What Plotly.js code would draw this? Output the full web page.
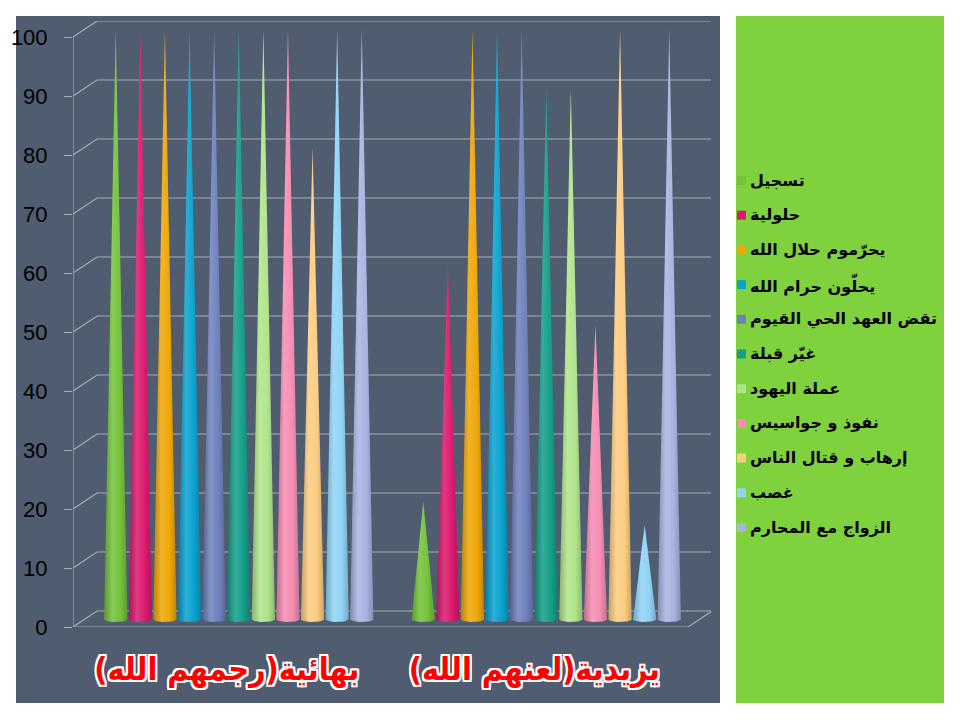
<!DOCTYPE html>
<html>
<head>
<meta charset="utf-8">
<script src="https://cdn.plot.ly/plotly-3.0.1.min.js"></script>
<style>
  html, body { margin: 0; padding: 0; background: #ffffff; }
  #chart { width: 960px; height: 720px; }
</style>
</head>
<body>
<div id="chart"></div>
<script>
"use strict";

// Categorias (eje X) y series
const categorias = ['بهائية(رجمهم الله)', 'يزيدية(لعنهم الله)'];
const nombresSeries = [
    'تسجيل',
    'حلولية',
    'يحرّموم حلال الله',
    'يحلّون حرام الله',
    'تقض العهد الحي القيوم',
    'غيّر قبلة',
    'عملة اليهود',
    'نفوذ و جواسيس',
    'إرهاب و قتال الناس',
    'غصب',
    'الزواج مع المحارم'
];
const valoresBahaiya = [100, 100, 100, 100, 100, 100, 100, 100, 80, 100, 100];
const valoresYazidiya = [20, 60, 100, 100, 100, 90, 90, 50, 100, 16, 100];
const coloresSeries = [
    '#74c23a', '#db1a6e', '#eea707', '#0aa2cf', '#6f80bd', '#159f89',
    '#b0e48a', '#f68cb2', '#fdcd82', '#90d3f6', '#a9b3e1'
];
const ticksY = [0, 10, 20, 30, 40, 50, 60, 70, 80, 90, 100];

const valoresPorCategoria = [valoresBahaiya, valoresYazidiya];

// Geometria del area de trazado (pixeles)
const margen = { l: 73, r: 249, t: 21, b: 93 };
const anchoPlot = 960 - margen.l - margen.r;
const altoPlot = 720 - margen.t - margen.b;
const rangoX = [-0.5, -0.5 + anchoPlot / 307.5];
const rangoY = [0, altoPlot / 5.9];
const profX = 24 / 307.5;          // profundidad 3D en unidades de X
const profY = 16 / 5.9;            // profundidad 3D en unidades de Y

// Conversion de pixeles de pagina a coordenadas 'paper'
const px = p => (p - margen.l) / anchoPlot;
const py = p => (720 - margen.b - p) / altoPlot;

// Utilidades de color
function mezclar(hex, destino, t) {
    const n = parseInt(hex.slice(1), 16);
    const c = [(n >> 16) & 255, (n >> 8) & 255, n & 255];
    const d = destino === 'w' ? 255 : 0;
    const r = c.map(v => Math.round(v + (d - v) * t));
    return `rgb(${r[0]},${r[1]},${r[2]})`;
}

// Construir un cono (triangulo con base eliptica)
const paso = 0.08;
const semiAncho = 0.0378;
const baseY = 1.3;
const radioY = 0.45;

function trazadoCono(xc, valor, color) {
    const xs = [];
    const ys = [];
    for (let k = 0; k <= 16; k++) {
        const t = Math.PI * k / 16;
        xs.push(xc - semiAncho * Math.cos(t));
        ys.push(baseY - radioY * Math.sin(t));
    }
    xs.push(xc);
    ys.push(baseY + valor);
    return {
        x: xs,
        y: ys,
        type: 'scatter',
        mode: 'lines',
        fill: 'toself',
        fillcolor: color,
        fillgradient: {
            type: 'horizontal',
            colorscale: [
                [0, mezclar(color, 'k', 0.22)],
                [0.35, mezclar(color, 'w', 0.14)],
                [0.7, color],
                [1, mezclar(color, 'k', 0.2)]
            ]
        },
        line: { width: 0, color: color },
        showlegend: false,
        hoverinfo: 'skip'
    };
}

const trazados = [];
valoresPorCategoria.forEach((valores, ic) => {
    valores.forEach((v, is) => {
        const xc = ic + profX / 2 + (is - 5) * paso;
        trazados.push(trazadoCono(xc, v, coloresSeries[is]));
    });
});

// Fondos, rejilla 3D y ejes como formas
const colorRejilla = '#a4acb8';
const formas = [
    { type: 'rect', xref: 'paper', yref: 'paper', layer: 'below',
      x0: px(16), x1: px(720), y0: py(703), y1: py(16),
      fillcolor: '#505c6f', line: { width: 0 } },
    { type: 'rect', xref: 'paper', yref: 'paper', layer: 'below',
      x0: px(736), x1: px(944), y0: py(703), y1: py(16),
      fillcolor: '#7fd13d', line: { width: 0 } }
];
const xIzq = rangoX[0];
const xDerFrente = 1.5;
ticksY.forEach(v => {
    formas.push({
        type: 'path', layer: 'below', xref: 'x', yref: 'y',
        path: `M ${xIzq},${v} L ${xIzq + profX},${v + profY} L ${xDerFrente + profX},${v + profY}`,
        line: { color: colorRejilla, width: 1.2 }
    });
});
// piso frontal y lateral derecho
formas.push({
    type: 'path', layer: 'below', xref: 'x', yref: 'y',
    path: `M ${xIzq},0 L ${xDerFrente},0 L ${xDerFrente + profX},${profY}`,
    line: { color: colorRejilla, width: 1.2 }
});
// eje vertical y marcas de categoria
formas.push({
    type: 'line', layer: 'below', xref: 'x', yref: 'y',
    x0: xIzq, x1: xIzq, y0: -2.2, y1: 100,
    line: { color: colorRejilla, width: 1.2 }
});
[0.5, 1.5].forEach(xv => {
    formas.push({
        type: 'line', layer: 'below', xref: 'x', yref: 'y',
        x0: xv, x1: xv, y0: -2.2, y1: 0,
        line: { color: colorRejilla, width: 1.2 }
    });
});

// Leyenda (cuadro de color a la izquierda del texto)
const anotaciones = [];
nombresSeries.forEach((nombre, i) => {
    const yc = 180 + i * 34.7;
    formas.push({
        type: 'rect', xref: 'paper', yref: 'paper',
        x0: px(737), x1: px(746), y0: py(yc + 5), y1: py(yc - 4),
        fillcolor: coloresSeries[i], line: { width: 0 }
    });
    anotaciones.push({
        xref: 'paper', yref: 'paper',
        x: px(748), y: py(yc),
        xanchor: 'left', yanchor: 'middle',
        text: nombre, showarrow: false,
        font: { family: 'DejaVu Sans', size: 16, color: '#000000', weight: 'bold' }
    });
});

const sombraBlanca = [
    '2px 2px 0 #fff', '-2px -2px 0 #fff', '2px -2px 0 #fff', '-2px 2px 0 #fff',
    '0 2px 0 #fff', '0 -2px 0 #fff', '2px 0 0 #fff', '-2px 0 0 #fff'
].join(', ');

const layout = {
    width: 960,
    height: 720,
    margin: margen,
    paper_bgcolor: '#ffffff',
    plot_bgcolor: 'rgba(0,0,0,0)',
    showlegend: false,
    xaxis: {
        range: rangoX,
        tickvals: [0, 1],
        // marca RTL al final para que el parentesis quede en su sitio
        ticktext: categorias.map(c => c + '\u200F'),
        ticks: '',
        showgrid: false,
        zeroline: false,
        showline: false,
        ticklabelstandoff: 20,
        tickfont: {
            family: 'DejaVu Sans Condensed, DejaVu Sans', size: 32, color: '#ff0000',
            weight: 'bold', shadow: sombraBlanca
        },
        fixedrange: true
    },
    yaxis: {
        range: rangoY,
        tickvals: ticksY,
        ticks: 'outside',
        ticklen: 8,
        tickcolor: colorRejilla,
        showgrid: false,
        zeroline: false,
        showline: false,
        ticklabelstandoff: 12,
        tickfont: { family: 'Liberation Sans, Arial', size: 22, color: '#000000' },
        fixedrange: true
    },
    shapes: formas,
    annotations: anotaciones
};

const config = { displayModeBar: false, staticPlot: true };

Plotly.newPlot('chart', trazados, layout, config);
</script>
</body>
</html>
